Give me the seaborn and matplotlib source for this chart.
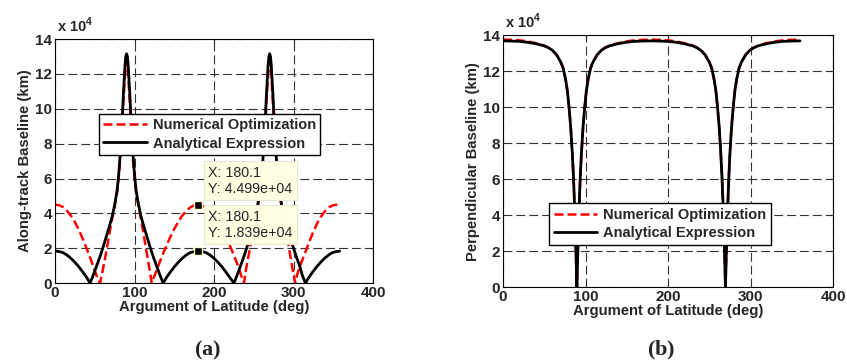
import numpy as np
import pandas as pd
import matplotlib
matplotlib.use('Agg')
import matplotlib.pyplot as plt
import seaborn as sns

sns.set_style('white')
plt.rcParams['font.family'] = ['Liberation Sans', 'DejaVu Sans']
plt.rcParams['font.weight'] = 'bold'
plt.rcParams['mathtext.fontset'] = 'custom'
plt.rcParams['mathtext.rm'] = 'Liberation Sans'
plt.rcParams['mathtext.bf'] = 'Liberation Serif:bold'

# Along-track baseline (units of 1e4 km)
along_x_num = [0, 5, 10, 15, 20, 25, 30, 35, 40, 45, 50, 53, 56.6, 58, 60, 63, 66, 69, 72,
               75, 78, 80, 82, 84, 86, 88, 89, 90, 91, 92, 94, 96, 98, 100, 102, 105, 108,
               111, 114, 117, 119, 121.6, 125, 130, 135, 140, 145, 150, 155, 160, 165, 170,
               175, 180, 185, 190, 195, 200, 205, 210, 215, 220, 225, 230, 234, 237.7, 240,
               243, 246, 249, 252, 255, 258, 260, 262, 264, 266, 268, 269, 270, 271, 272,
               274, 276, 278, 280, 282, 285, 288, 291, 294, 297, 299, 302, 305, 310, 315,
               320, 325, 330, 335, 340, 345, 350, 355, 358]
along_num = [4.5, 4.47, 4.36, 4.15, 3.87, 3.5, 3.05, 2.52, 1.95, 1.35, 0.72, 0.33, 0.0, 0.3,
             0.75, 1.45, 2.2, 3.0, 3.75, 4.4, 5.2, 6.0, 7.1, 8.6, 10.4, 12.0, 12.5, 12.74,
             12.5, 12.0, 10.4, 8.6, 7.1, 6.0, 5.2, 4.4, 3.7, 2.9, 2.1, 1.3, 0.75, 0.0, 0.41,
             1.01, 1.59, 2.14, 2.65, 3.11, 3.52, 3.87, 4.14, 4.34, 4.46, 4.5, 4.46, 4.34,
             4.14, 3.87, 3.52, 3.11, 2.65, 2.14, 1.59, 1.01, 0.45, 0.0, 0.75, 1.45, 2.2,
             3.0, 3.75, 4.4, 5.2, 6.0, 7.1, 8.6, 10.4, 12.0, 12.5, 12.74, 12.5, 12.0, 10.4,
             8.6, 7.1, 6.0, 5.2, 4.4, 3.7, 2.9, 2.1, 1.3, 0.75, 0.0, 0.55, 1.2, 1.8, 2.4,
             2.95, 3.45, 3.85, 4.15, 4.36, 4.47, 4.5, 4.52]

along_x_ana = [0, 5, 10, 15, 20, 25, 30, 35, 40, 44, 48, 52, 56, 60, 64, 68, 72, 75, 78, 80,
               82, 84, 86, 88, 89, 90, 91, 92, 94, 96, 98, 100, 102, 105, 108, 112, 116, 120,
               124, 128, 132, 136, 140, 145, 150, 155, 160, 165, 170, 175, 180, 185, 190,
               195, 200, 205, 210, 215, 220, 225, 229, 233, 237, 241, 245, 249, 252, 255,
               258, 260, 262, 264, 266, 268, 269, 270, 271, 272, 274, 276, 278, 280, 282,
               285, 288, 292, 296, 300, 304, 308, 311, 315, 319, 324, 329, 334, 339, 344,
               349, 354, 358]
along_ana = [1.84, 1.81, 1.75, 1.61, 1.42, 1.19, 0.93, 0.63, 0.31, 0.0, 0.45, 0.95, 1.45,
             2.0, 2.6, 3.2, 3.85, 4.5, 5.3, 6.2, 7.4, 9.0, 10.9, 12.5, 13.0, 13.16, 13.0,
             12.5, 10.9, 9.0, 7.4, 6.2, 5.3, 4.5, 3.85, 3.2, 2.6, 2.0, 1.45, 0.95, 0.45, 0.0,
             0.31, 0.63, 0.93, 1.19, 1.42, 1.61, 1.75, 1.81, 1.84, 1.81, 1.75, 1.61, 1.42,
             1.19, 0.93, 0.63, 0.31, 0.0, 0.45, 0.95, 1.45, 2.0, 2.6, 3.2, 3.85, 4.5, 5.3,
             6.2, 7.4, 9.0, 10.9, 12.5, 13.0, 13.16, 13.0, 12.5, 10.9, 9.0, 7.4, 6.2, 5.3,
             4.5, 3.85, 3.2, 2.6, 2.0, 1.45, 0.95, 0.45, 0.0, 0.31, 0.63, 0.93, 1.19, 1.42,
             1.61, 1.75, 1.81, 1.83]

# Perpendicular baseline (units of 1e4 km)
perp_x = [0, 10, 20, 30, 40, 50, 55, 60, 65, 70, 73, 76, 78, 80, 82, 84, 85.5, 87.1, 88.3,
          89.5, 90.7, 91.9, 93.5, 95, 97, 99, 101, 103, 106, 109, 114, 119, 124, 129, 139,
          149, 159, 169, 180, 190, 200, 210, 220, 230, 235, 240, 245, 250, 253, 256, 258,
          260, 262, 264, 265.5, 267.2, 268.4, 269.6, 270.8, 272, 273.6, 275, 277, 279, 281,
          283, 286, 289, 294, 299, 304, 309, 319, 329, 339, 349, 360]
perp_ana = [13.68, 13.67, 13.65, 13.6, 13.52, 13.4, 13.3, 13.15, 12.9, 12.5, 12.15, 11.5,
            10.9, 10.0, 8.9, 7.4, 6.0, 4.0, 2.1, 0.0, 2.1, 4.0, 6.0, 7.4, 8.9, 10.0, 10.9,
            11.5, 12.15, 12.5, 12.9, 13.15, 13.3, 13.4, 13.52, 13.6, 13.65, 13.67, 13.68,
            13.67, 13.65, 13.6, 13.52, 13.4, 13.3, 13.15, 12.9, 12.5, 12.15, 11.5, 10.9,
            10.0, 8.9, 7.4, 6.0, 4.0, 2.1, 0.0, 2.1, 4.0, 6.0, 7.4, 8.9, 10.0, 10.9, 11.5,
            12.15, 12.5, 12.9, 13.15, 13.3, 13.4, 13.52, 13.6, 13.65, 13.67, 13.68]
perp_num = [13.75, 13.74, 13.71, 13.65, 13.55, 13.42, 13.31, 13.16, 12.9, 12.5, 12.15, 11.5,
            10.9, 10.0, 8.9, 7.4, 6.0, 4.0, 2.1, 0.0, 2.1, 4.0, 6.0, 7.4, 8.9, 10.0, 10.9,
            11.5, 12.15, 12.5, 12.9, 13.16, 13.31, 13.42, 13.55, 13.65, 13.71, 13.74, 13.75,
            13.74, 13.71, 13.65, 13.55, 13.42, 13.31, 13.16, 12.9, 12.5, 12.15, 11.5, 10.9,
            10.0, 8.9, 7.4, 6.0, 4.0, 2.1, 0.0, 2.1, 4.0, 6.0, 7.4, 8.9, 10.0, 10.9, 11.5,
            12.15, 12.5, 12.9, 13.16, 13.31, 13.42, 13.55, 13.65, 13.71, 13.74, 13.75]

# data tips in panel (a)
tip_x = [180.1, 180.1]
tip_y = [4.499, 1.839]
tip_text = ['X: 180.1\nY: 4.499e+04', 'X: 180.1\nY: 1.839e+04']

labels = ['Numerical Optimization', 'Analytical Expression']

fig = plt.figure(figsize=(8.47, 3.62), dpi=100)
ax1 = fig.add_axes([0.065, 0.218, 0.3754, 0.674])
ax2 = fig.add_axes([0.5939, 0.207, 0.3896, 0.696])

red_style = dict(color='red', lw=1.8, linestyle=(0, (3.6, 1.6)))
black_style = dict(color='black', lw=2.0)

sns.lineplot(x=along_x_num, y=along_num, ax=ax1, sort=False, estimator=None,
             label=labels[0], **red_style)
sns.lineplot(x=along_x_ana, y=along_ana, ax=ax1, sort=False, estimator=None,
             label=labels[1], **black_style)
sns.lineplot(x=perp_x, y=perp_num, ax=ax2, sort=False, estimator=None,
             label=labels[0], **red_style)
sns.lineplot(x=perp_x, y=perp_ana, ax=ax2, sort=False, estimator=None,
             label=labels[1], **black_style)

for ax, ylab in [(ax1, 'Along-track Baseline (km)'), (ax2, 'Perpendicular Baseline (km)')]:
    ax.set_xlim(0, 400)
    ax.set_ylim(0, 14)
    ax.set_xticks(range(0, 401, 100))
    ax.set_yticks(range(0, 15, 2))
    ax.grid(True, color='#333333', lw=0.8, linestyle=(0, (8, 3.6)))
    ax.tick_params(direction='in', length=3, top=True, right=True, labelsize=11,
                   pad=2)
    for lab in ax.get_xticklabels() + ax.get_yticklabels():
        lab.set_fontweight('bold')
    for sp in ax.spines.values():
        sp.set_visible(True)
        sp.set_color('black')
        sp.set_linewidth(0.8)
    ax.set_xlabel('Argument of Latitude (deg)', fontsize=10.7, fontweight='bold', labelpad=0)
    ax.set_ylabel(ylab, fontsize=10.7, fontweight='bold', labelpad=2)
    ax.text(0.005, 1.015, r'x 10$^{4}$', transform=ax.transAxes, fontsize=10.5,
            fontweight='bold', va='bottom', ha='left')

leg_kw = dict(loc='upper left', borderaxespad=0, fancybox=False, framealpha=1,
              edgecolor='black', handlelength=3.0, handletextpad=0.4,
              borderpad=0.3, labelspacing=0.3,
              prop={'size': 10.5, 'weight': 'bold'})
leg1 = ax1.legend(bbox_to_anchor=(0.138, 0.694), **leg_kw)
leg2 = ax2.legend(bbox_to_anchor=(0.140, 0.332), **leg_kw)
for leg in (leg1, leg2):
    leg.get_frame().set_linewidth(1.0)
    leg.set_zorder(5)

# data tip markers and boxes
ax1.scatter(tip_x, tip_y, marker='s', s=40, color='black', edgecolors='#FFFFD0',
            linewidths=1.0, zorder=7)
for ty, txt in zip([5.88, 3.34], tip_text):
    ax1.text(193, ty, txt, fontsize=10.3, fontweight='normal', va='center', ha='left',
             linespacing=1.2, zorder=6,
             bbox=dict(boxstyle='square,pad=0.3', fc='#FFFFE1', ec='#E8E8D0', lw=0.8))

fig.text(0.245, 0.033, r'($\mathbf{a}$)', fontsize=16, family='Liberation Serif',
         ha='center', va='center')
fig.text(0.780, 0.033, r'($\mathbf{b}$)', fontsize=16, family='Liberation Serif',
         ha='center', va='center')

fig.savefig('out.png', dpi=100)
